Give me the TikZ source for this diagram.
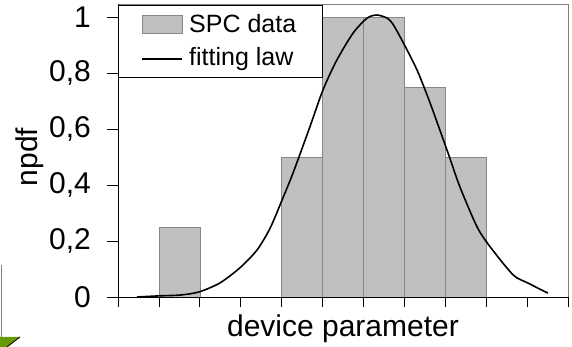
\documentclass[tikz,border=0pt]{standalone}
\usepackage{fontspec}
\setmainfont{Liberation Sans}
\definecolor{bargray}{RGB}{192,192,192}
\definecolor{baredge}{RGB}{135,135,135}
\definecolor{framegray}{RGB}{128,128,128}
\definecolor{arrowgreen}{RGB}{102,153,0}
\tikzset{
  bar/.style={draw=baredge,fill=bargray,line width=0.6pt},
  ticklab/.style={font=\fontsize{30}{30}\selectfont,anchor=east,inner sep=0pt},
  axislab/.style={font=\fontsize{30}{30}\selectfont,inner sep=0pt},
  legtext/.style={font=\fontsize{25}{25}\selectfont,anchor=west,inner sep=0pt},
}
\begin{document}
\begin{tikzpicture}[x=1pt,y=1pt]
  \useasboundingbox (0,0) rectangle (572,347);
  % cut-off arrow at the lower left
  \draw[framegray,line width=0.8pt] (1,82) -- (1,10);
  \fill[arrowgreen] (0,10) -- (20,10) -- (7,0) -- (0,0) -- cycle;
  \draw[line width=0.8pt] (20,10) -- (7,0);
  \begin{scope}[shift={(118pt,50pt)},x=40.9pt,y=280pt]
    % histogram
    \draw[bar] (1,0) rectangle (2,0.25);
    \draw[bar] (4,0) rectangle (5,0.5);
    \draw[bar] (5,0) rectangle (6,1);
    \draw[bar] (6,0) rectangle (7,1);
    \draw[bar] (7,0) rectangle (8,0.75);
    \draw[bar] (8,0) rectangle (9,0.5);
    % plot frame
    \draw[framegray,line width=0.8pt] (0,1.046) -- (11,1.046) -- (11,0);
    \draw[line width=0.8pt] (0,1.046) -- (0,0) -- (11,0);
    \foreach \i in {0,...,11}
      \draw[line width=0.8pt] (\i,0) -- ++(0,-10pt);
    \foreach \v/\lab [count=\n] in {0/0,0.2/{0,2},0.4/{0,4},0.6/{0,6},0.8/{0,8},1/1} {
      \draw[line width=0.8pt] (0,\v) -- ++(-11pt,0);
      \node[ticklab] (ylab\n) at ([xshift=-27pt]0,\v) {\lab};
    }
    % fitted curve
    \draw[line width=1.6pt,line join=round] plot[smooth,tension=0.45] coordinates {
      (0.46,0) (1.0,0.004) (1.52,0.007) (1.98,0.018) (2.49,0.05) (2.98,0.104)
      (3.40,0.168) (3.72,0.246) (4.01,0.346) (4.28,0.443) (4.69,0.607)
      (5.01,0.739) (5.35,0.846) (5.75,0.943) (6.09,0.996) (6.33,1.007)
      (6.58,0.996) (6.72,0.975) (6.95,0.915) (7.31,0.811) (7.63,0.693)
      (8.07,0.514) (8.36,0.393) (8.78,0.25) (9.10,0.179) (9.66,0.079)
      (10.02,0.05) (10.51,0.014)};
  \end{scope}
  % axis titles
  \node[axislab,anchor=base] (xtitle) at (343,10) {device parameter};
  \node[axislab,rotate=90] (ytitle) at (30,190) {npdf};
  % legend
  \draw[fill=white,line width=0.8pt] (118,270) rectangle (322,342);
  \draw[bar] (142,314) rectangle (182,332);
  \draw[line width=1.6pt] (142,288) -- (182,288);
  \node[legtext] (legbar) at (189,323) {SPC data};
  \node[legtext] (legline) at (189,288) {fitting law};
\end{tikzpicture}
\end{document}
